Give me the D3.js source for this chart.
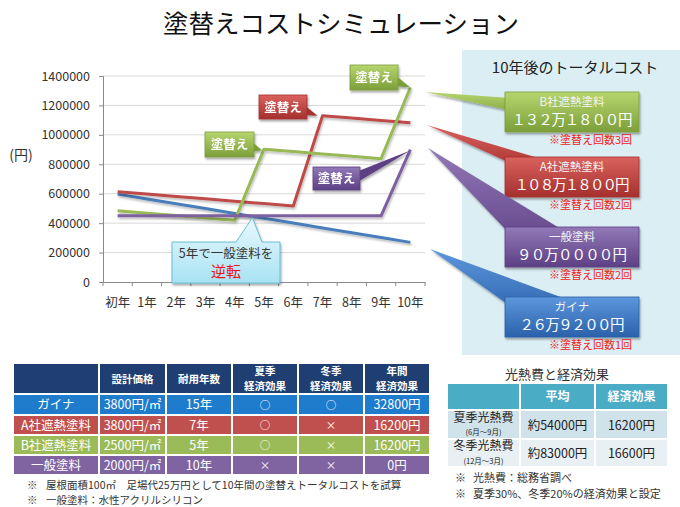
<!DOCTYPE html>
<html><head><meta charset="utf-8">
<script src="https://cdn.jsdelivr.net/npm/d3@7"></script>
<style>
body{margin:0;background:#fff}
svg{display:block;font-family:"Noto Sans CJK JP","Noto Sans",sans-serif}
</style>
</head><body>
<svg id="c" width="680" height="507"></svg>
<script>
// ---------------- DATA ----------------
const categories = ["初年","1年","2年","3年","4年","5年","6年","7年","8年","9年","10年"];
const gainaValues    = [597200,564400,531600,498800,466000,433200,400400,367600,334800,302000,269200];
const companyAValues = [613800,597600,581400,565200,549000,532800,516600,1130400,1114200,1098000,1081800];
const companyBValues = [483800,467600,451400,435200,419000,902800,886600,870400,854200,838000,1321800];
const generalValues  = [450000,450000,450000,450000,450000,450000,450000,450000,450000,450000,900000];
const yTicks = [0,200000,400000,600000,800000,1000000,1200000,1400000];
const seriesNames = ["ガイナ","A社遮熱塗料","B社遮熱塗料","一般塗料"];
const totalLabels = ["２６万９２００円","１０８万１８００円","１３２万１８００円","９０万００００円"];
const repaintNotes = ["※塗替え回数1回","※塗替え回数2回","※塗替え回数3回","※塗替え回数2回"];
const tableHeader = [[""],["設計価格"],["耐用年数"],["夏季","経済効果"],["冬季","経済効果"],["年間","経済効果"]];
const tableRows = [
  ["ガイナ","3800円/㎡","15年","○","○","32800円"],
  ["A社遮熱塗料","3800円/㎡","7年","○","×","16200円"],
  ["B社遮熱塗料","2500円/㎡","5年","○","×","16200円"],
  ["一般塗料","2000円/㎡","10年","×","×","0円"]
];
const energyHeader = ["","平均","経済効果"];
const energyRows = [
  ["夏季光熱費","(6月～9月)","約54000円","16200円"],
  ["冬季光熱費","(12月～3月)","約83000円","16600円"]
];
const footNotesLeft = ["屋根面積100㎡　足場代25万円として10年間の塗替えトータルコストを試算","一般塗料：水性アクリルシリコン"];
const footNotesRight = ["光熱費：総務省調べ","夏季30%、冬季20%の経済効果と設定"];

// ---------------- STYLE ----------------
const colors = ["#4a7ebb","#be4b48","#98b954","#7d60a0"];
const grads = [["#5d97dc","#2b61ab"],["#da625e","#a5302d"],["#b6d56e","#7c9f3a"],["#9279b7","#5d4084"]];
const rowColors = ["#1f7bcb","#c0504d","#9bbb59","#8064a2"];

const svg = d3.select("#c");
const defs = svg.append("defs");
grads.forEach((g,i)=>{
  const lg = defs.append("linearGradient").attr("id","g"+i).attr("x1",0).attr("y1",0).attr("x2",0).attr("y2",1);
  lg.append("stop").attr("offset","0%").attr("stop-color",g[0]);
  lg.append("stop").attr("offset","100%").attr("stop-color",g[1]);
});
const cg = defs.append("linearGradient").attr("id","gc").attr("x1",0).attr("y1",0).attr("x2",0).attr("y2",1);
cg.append("stop").attr("offset","0%").attr("stop-color","#e8f8fd");
cg.append("stop").attr("offset","100%").attr("stop-color","#a9e3f4");
const sh = defs.append("filter").attr("id","sh").attr("x","-20%").attr("y","-20%").attr("width","140%").attr("height","160%");
sh.append("feDropShadow").attr("dx",1).attr("dy",2).attr("stdDeviation",1.3).attr("flood-opacity",0.35);
const lsh = defs.append("filter").attr("id","lsh").attr("x","-5%").attr("y","-10%").attr("width","110%").attr("height","120%");
lsh.append("feDropShadow").attr("dx",1).attr("dy",2).attr("stdDeviation",1).attr("flood-opacity",0.25);

// Title
svg.append("text").attr("x",341).attr("y",33).attr("text-anchor","middle")
  .attr("font-size",25.5).attr("fill","#111").text("塗替えコストシミュレーション");

// Right panel
svg.append("rect").attr("x",462).attr("y",50).attr("width",218).attr("height",305).attr("fill","#dbeef4");
svg.append("text").attr("x",575).attr("y",73).attr("text-anchor","middle").attr("font-size",15).attr("fill","#222").text("10年後のトータルコスト");

// ---------------- CHART ----------------
const x = d3.scaleBand().domain(categories).range([103,425]);
const y = d3.scaleLinear().domain([0,1400000]).range([282,76]);
const cx = c => x(c) + x.bandwidth()/2;

svg.append("g").selectAll("line").data(yTicks.filter(d=>d>0)).join("line")
  .attr("x1",103).attr("x2",425).attr("y1",d=>y(d)).attr("y2",d=>y(d))
  .attr("stroke","#d9d9d9").attr("stroke-width",1);

const ya = svg.append("g").attr("transform","translate(103,0)")
  .call(d3.axisLeft(y).tickValues(yTicks).tickSize(4).tickPadding(9).tickFormat(d3.format("d")));
ya.select(".domain").attr("stroke","#8a8a8a");
ya.selectAll(".tick line").attr("stroke","#8a8a8a");
ya.selectAll("text").attr("font-size",12.5).attr("fill","#333").attr("font-family","Noto Sans CJK JP");

const xa = svg.append("g").attr("transform","translate(0,282)")
  .call(d3.axisBottom(x).tickSize(0).tickPadding(16));
xa.select(".domain").attr("stroke","#8a8a8a");
xa.selectAll("text").attr("font-size",12.5).attr("fill","#333").attr("font-family","Noto Sans CJK JP");
svg.append("g").selectAll("line").data(d3.range(categories.length+1)).join("line")
  .attr("x1",i=>103+i*x.step()).attr("x2",i=>103+i*x.step()).attr("y1",282).attr("y2",286)
  .attr("stroke","#8a8a8a");

svg.append("text").attr("x",21).attr("y",160).attr("text-anchor","middle").attr("font-size",14).attr("fill","#333").text("(円)");

const allSeries = [gainaValues, companyAValues, companyBValues, generalValues];
const line = d3.line().x((d,i)=>cx(categories[i])).y(d=>y(d));
svg.append("g").selectAll("path").data(allSeries).join("path")
  .attr("d",line).attr("fill","none").attr("stroke",(d,i)=>colors[i])
  .attr("stroke-width",3).attr("stroke-linejoin","round").attr("filter","url(#lsh)");

// small "塗替え" callouts
function smallCallout(bx,by,bw,bh,tail,gi){
  const g = svg.append("g").attr("filter","url(#sh)");
  g.append("path").attr("d","M"+tail.map(p=>p.join(",")).join("L")+"Z").attr("fill",grads[gi][1]);
  g.append("rect").attr("x",bx).attr("y",by).attr("width",bw).attr("height",bh).attr("fill","url(#g"+gi+")").attr("stroke",grads[gi][1]).attr("stroke-width",0.8);
  g.append("text").attr("x",bx+bw/2).attr("y",by+bh/2+4.5).attr("text-anchor","middle").attr("font-size",12.5)
    .attr("font-weight","bold").attr("fill","#fff").text("塗替え");
}
const ptB5 = [cx(categories[5]), y(companyBValues[5])];
const ptA7 = [cx(categories[7]), y(companyAValues[7])];
const ptB10 = [cx(categories[10]), y(companyBValues[10])];
const ptG10 = [cx(categories[10]), y(generalValues[10])];
smallCallout(205,132,49,25,[[250,140],[ptB5[0]-2,ptB5[1]+1],[250,152]],2);
smallCallout(259,95,48,24,[[303,104],[ptA7[0]-5,ptA7[1]],[303,115]],1);
smallCallout(350,65,48,25,[[394,74],[ptB10[0],ptB10[1]],[394,86]],2);
smallCallout(313,167,47,23,[[356,172],[ptG10[0],ptG10[1]+1],[356,183]],3);

// "5年で一般塗料を逆転" callout
const cross = [103 + x.step()*5, y(450000)];
const cc = svg.append("g").attr("filter","url(#sh)");
cc.append("path").attr("d",`M172,242L236,242L${cross[0]+3},${cross[1]+2}L262,242L280,242L280,283L172,283Z`)
  .attr("fill","url(#gc)").attr("stroke","#5cb7d1").attr("stroke-width",0.9);
svg.append("text").attr("x",226).attr("y",258).attr("text-anchor","middle").attr("font-size",12.5).attr("fill","#333").text("5年で一般塗料を");
svg.append("text").attr("x",226).attr("y",277).attr("text-anchor","middle").attr("font-size",15).attr("fill","#ee1111").text("逆転");

// big callouts (order: B, A, general, gaina)
const bigOrder = [2,1,3,0];
const bigTop = [92,157,227,297];
const tips = [[425,92],[427,125],[428,148],[430,249]];
const bases = [[[540,100],[540,117]],[[545,160],[530,172]],[[579,240],[530,255]],[[596,310],[530,320]]];
const valWidth = [117,111,106,101];
bigOrder.forEach((si,k)=>{
  const top = bigTop[k];
  const g = svg.append("g");
  g.append("path").attr("d",`M${tips[k][0]},${tips[k][1]}L${bases[k][0][0]},${bases[k][0][1]}L${bases[k][1][0]},${bases[k][1][1]}Z`)
    .attr("fill","url(#g"+si+")").attr("filter","url(#sh)");
  g.append("rect").attr("x",505).attr("y",top).attr("width",134).attr("height",40)
    .attr("fill","url(#g"+si+")").attr("stroke",grads[si][1]).attr("stroke-width",0.8).attr("filter","url(#sh)");
  g.append("text").attr("x",572).attr("y",top+14).attr("text-anchor","middle").attr("font-size",11.5).attr("fill","#f4f4f4").text(seriesNames[si]);
  g.append("text").attr("x",572).attr("y",top+33).attr("text-anchor","middle").attr("font-size",14.5)
    .attr("textLength",valWidth[k]+4).attr("lengthAdjust","spacing").attr("fill","#fff").text(totalLabels[si]);
  svg.append("text").attr("x",632).attr("y",top+52).attr("text-anchor","end").attr("font-size",11).attr("fill","#f02424").text(repaintNotes[si]);
});

// ---------------- LEFT TABLE ----------------
const colB = [13,99,166,232,298,364,430];
const rowB = [363,394,415,435,455,475];
const tb = svg.append("g");
for(let r=0;r<5;r++){
  for(let c=0;c<6;c++){
    tb.append("rect").attr("x",colB[c]+1).attr("y",rowB[r]+1).attr("width",colB[c+1]-colB[c]-2).attr("height",rowB[r+1]-rowB[r]-2)
      .attr("fill", r===0 ? "#1f3f72" : rowColors[r-1]);
    const mx = (colB[c]+colB[c+1])/2, my = (rowB[r]+rowB[r+1])/2;
    if(r===0){
      const lines = tableHeader[c];
      lines.forEach((t,li)=>{
        tb.append("text").attr("x",mx).attr("y",my+4 + (lines.length===2 ? (li===0?-7.6:7.6) : 0))
          .attr("text-anchor","middle").attr("font-size",10.5).attr("font-weight","bold").attr("fill","#fff").text(t);
      });
    } else {
      const v = tableRows[r-1][c];
      const sym = (v==="○"||v==="×");
      tb.append("text").attr("x",mx).attr("y",my+(sym?4:4.5)).attr("text-anchor","middle").attr("font-size",sym?10.5:12.5).attr("fill","#fff").text(v);
    }
  }
}
footNotesLeft.forEach((t,i)=>{
  svg.append("text").attr("x",27).attr("y",488.5+i*15.5).attr("font-size",10.5).attr("fill","#333").text("※");
  svg.append("text").attr("x",46).attr("y",488.5+i*15.5).attr("font-size",10.5).attr("fill","#333").text(t);
});

// ---------------- RIGHT TABLE ----------------
svg.append("text").attr("x",557).attr("y",379).attr("text-anchor","middle").attr("font-size",13).attr("fill","#333").text("光熱費と経済効果");
const eCol = [447,520,595,668];
const eRow = [383,410,439,467];
const eFill = ["#4bacc6","#d1e3ea","#e8f0f4"];
for(let r=0;r<3;r++){
  for(let c=0;c<3;c++){
    svg.append("rect").attr("x",eCol[c]+1).attr("y",eRow[r]+1).attr("width",eCol[c+1]-eCol[c]-2).attr("height",eRow[r+1]-eRow[r]-2).attr("fill",eFill[r]);
    const mx=(eCol[c]+eCol[c+1])/2, my=(eRow[r]+eRow[r+1])/2;
    if(r===0){
      svg.append("text").attr("x",mx).attr("y",my+4.5).attr("text-anchor","middle").attr("font-size",12).attr("font-weight","bold").attr("fill","#fff").text(energyHeader[c]);
    } else {
      const row = energyRows[r-1];
      if(c===0){
        svg.append("text").attr("x",mx).attr("y",my-3).attr("text-anchor","middle").attr("font-size",12).attr("fill","#222").text(row[0]);
        svg.append("text").attr("x",mx).attr("y",my+10.5).attr("text-anchor","middle").attr("font-size",7.5).attr("fill","#222").text(row[1]);
      } else {
        svg.append("text").attr("x",mx).attr("y",my+5).attr("text-anchor","middle").attr("font-size",12.5).attr("fill","#222").text(row[c+1]);
      }
    }
  }
}
footNotesRight.forEach((t,i)=>{
  svg.append("text").attr("x",455).attr("y",482+i*16).attr("font-size",11).attr("fill","#333").text("※");
  svg.append("text").attr("x",473).attr("y",482+i*16).attr("font-size",11).attr("fill","#333").text(t);
});
</script>
</body></html>
